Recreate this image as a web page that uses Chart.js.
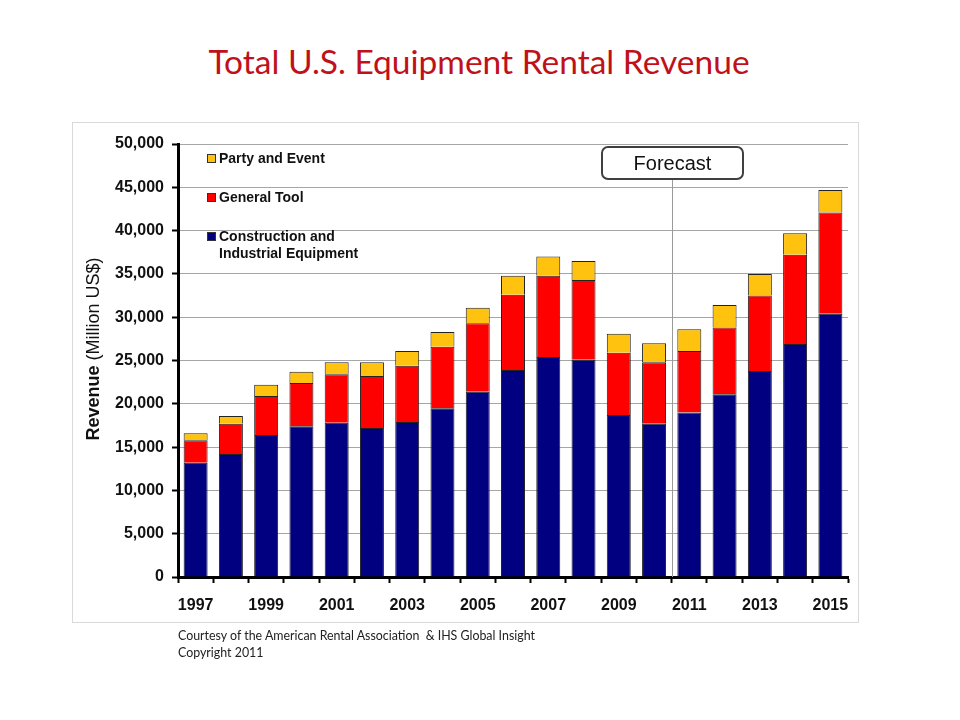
<!DOCTYPE html>
<html>
<head>
<meta charset="utf-8">
<script src="https://cdn.jsdelivr.net/npm/chart.js@4.4.1/dist/chart.umd.min.js"></script>
<style>
  body { margin: 0; background: #fff; }
  #wrap { position: relative; width: 960px; height: 720px; overflow: hidden; }
  #frame { position: absolute; left: 72px; top: 122px; width: 785px; height: 499px; border: 1px solid #d9d9d9; }
  #title { position: absolute; left: 0; top: 41px; width: 958px; text-align: center;
           font-family: Lato, "Noto Sans", sans-serif; font-size: 33.5px; line-height: 40px; color: #c0111b; }
  #note { position: absolute; left: 178px; top: 627px; font-family: Lato, "Noto Sans", sans-serif;
          font-size: 12.4px; line-height: 17px; color: #222; }
  canvas { position: absolute; left: 0; top: 0; }
</style>
</head>
<body>
<div id="wrap">
  <div id="frame"></div>
  <div id="title">Total U.S. Equipment Rental Revenue</div>
  <canvas id="chart" width="960" height="720"></canvas>
  <div id="note">Courtesy of the American Rental Association &nbsp;&amp; IHS Global Insight<br>Copyright 2011</div>
</div>
<script>
// ==== Data (million US$) ====
var years = ['1997','1998','1999','2000','2001','2002','2003','2004','2005','2006',
             '2007','2008','2009','2010','2011','2012','2013','2014','2015']
var construction = [13200, 14200, 16400, 17400, 17800, 17200, 17900, 19500, 21400, 23900,
                    25400, 25100, 18700, 17700, 19000, 21100, 23800, 26900, 30400]
var generalTool  = [2600, 3500, 4500, 5000, 5600, 6000, 6500, 7100, 7900, 8700,
                    9400, 9200, 7200, 7100, 7100, 7700, 8700, 10300, 11700]
var partyEvent   = [800, 900, 1300, 1300, 1400, 1600, 1700, 1700, 1800, 2200,
                    2200, 2200, 2200, 2200, 2500, 2600, 2500, 2500, 2600]
var yTicks = [0, 5000, 10000, 15000, 20000, 25000, 30000, 35000, 40000, 45000, 50000]
var firstForecastYear = '2011'

var FONT = '"Liberation Sans", Arial, sans-serif'

// === legend inside the plot + forecast marker + y title ===
var overlay = {
    id: 'overlay',
    beforeDatasetsDraw: function(chart) {
        var ctx = chart.ctx, a = chart.chartArea
        var fx = Math.round(chart.scales.x.getPixelForValue(years.indexOf(firstForecastYear) - 0.5)) + 0.5
        ctx.save()
        ctx.strokeStyle = '#9a9a9a'
        ctx.lineWidth = 1
        ctx.beginPath()
        ctx.moveTo(fx, a.top + 35)
        ctx.lineTo(fx, a.bottom)
        ctx.stroke()
        ctx.restore()
    },
    afterDraw: function(chart) {
        var ctx = chart.ctx, a = chart.chartArea
        ctx.save()

        // forecast box
        var fx = Math.round(chart.scales.x.getPixelForValue(years.indexOf(firstForecastYear) - 0.5)) + 0.5
        var bw = 141, bh = 32, bx = fx - bw / 2, by = a.top + 3
        ctx.beginPath()
        ctx.roundRect(bx, by, bw, bh, 6)
        ctx.fillStyle = '#fff'
        ctx.fill()
        ctx.strokeStyle = '#404040'
        ctx.lineWidth = 2
        ctx.stroke()
        ctx.fillStyle = '#111'
        ctx.font = '20px ' + FONT
        ctx.textAlign = 'center'
        ctx.textBaseline = 'middle'
        ctx.fillText('Forecast', fx, by + bh / 2 + 1)

        // legend (reverse dataset order, like the picture)
        var rows = [
            { ds: 2, lines: ['Party and Event'], y: a.top + 15 },
            { ds: 1, lines: ['General Tool'], y: a.top + 54 },
            { ds: 0, lines: ['Construction and', 'Industrial Equipment'], y: a.top + 93 }
        ]
        ctx.font = 'bold 14px ' + FONT
        ctx.textAlign = 'left'
        rows.forEach(function(r) {
            var d = chart.data.datasets[r.ds]
            ctx.fillStyle = d.backgroundColor
            ctx.fillRect(a.left + 29, r.y - 5, 9, 9)
            ctx.strokeStyle = '#333'
            ctx.lineWidth = 1
            ctx.strokeRect(a.left + 29.5, r.y - 4.5, 8, 8)
            ctx.fillStyle = '#111'
            r.lines.forEach(function(t, i) {
                ctx.fillText(t, a.left + 41, r.y + i * 17)
            })
        })

        // y axis title, "Revenue" bold + rest regular
        var boldPart = 'Revenue', normPart = ' (Million US$)'
        ctx.font = 'bold 18px ' + FONT
        var w1 = ctx.measureText(boldPart).width
        ctx.font = '18px ' + FONT
        var w2 = ctx.measureText(normPart).width
        ctx.translate(94, 349)
        ctx.rotate(-Math.PI / 2)
        ctx.textBaseline = 'middle'
        ctx.fillStyle = '#111'
        ctx.font = 'bold 18px ' + FONT
        ctx.fillText(boldPart, -(w1 + w2) / 2, 0)
        ctx.font = '18px ' + FONT
        ctx.fillText(normPart, -(w1 + w2) / 2 + w1, 0)
        ctx.restore()
    }
}

var config = {
    type: 'bar',
    data: {
        labels: years,
        datasets: [
            { label: 'Construction and Industrial Equipment', data: construction, backgroundColor: '#000080' },
            { label: 'General Tool', data: generalTool, backgroundColor: '#ff0000' },
            { label: 'Party and Event', data: partyEvent, backgroundColor: '#ffc20e' }
        ]
    },
    options: {
        responsive: false,
        animation: false,
        datasets: {
            bar: {
                borderColor: '#222',
                borderWidth: 1,
                barPercentage: 0.68,
                categoryPercentage: 1
            }
        },
        layout: {
            padding: { top: 144, right: 112, bottom: 0, left: 0 }
        },
        plugins: {
            legend: { display: false },
            tooltip: { enabled: false }
        },
        scales: {
            x: {
                stacked: true,
                afterFit: function(scale) { scale.height = 143 },
                grid: {
                    offset: true,
                    drawOnChartArea: false,
                    tickLength: 6,
                    tickColor: '#000',
                    tickWidth: 2
                },
                border: { display: true, color: '#000', width: 3 },
                ticks: {
                    autoSkip: false,
                    maxRotation: 0,
                    padding: 13,
                    color: '#111',
                    font: { family: FONT, size: 16, weight: 'bold' },
                    callback: function(v, i) { return i % 2 === 0 ? years[i] : '' }
                }
            },
            y: {
                stacked: true,
                min: yTicks[0],
                max: yTicks[yTicks.length - 1],
                afterFit: function(scale) { scale.width = 178 },
                afterBuildTicks: function(scale) {
                    scale.ticks = yTicks.map(function(v) { return { value: v } })
                },
                grid: {
                    color: '#a6a6a6',
                    lineWidth: 1,
                    tickLength: 6,
                    tickColor: '#000',
                    tickWidth: 2
                },
                border: { display: true, color: '#000', width: 3 },
                ticks: {
                    padding: 8,
                    color: '#111',
                    font: { family: FONT, size: 16, weight: 'bold' },
                    callback: function(v) { return v.toLocaleString('en-US') }
                }
            }
        }
    },
    plugins: [overlay]
}

const ctx = document.getElementById('chart').getContext('2d')
new Chart(ctx, config)
</script>
</body>
</html>
